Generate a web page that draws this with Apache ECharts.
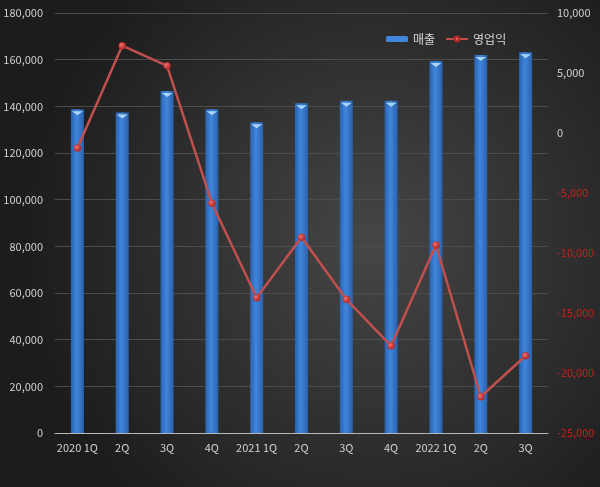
<!DOCTYPE html>
<html>
<head>
<meta charset="utf-8">
<script src="https://cdn.jsdelivr.net/npm/echarts@6/dist/echarts.min.js"></script>
<style>
  html, body { margin: 0; padding: 0; background: #2a2a2a; }
  #chart { width: 600px; height: 487px; }
</style>
</head>
<body>
<div id="chart"></div>
<script>
// 분기
var quarters = ['2020 1Q', '2Q', '3Q', '4Q', '2021 1Q', '2Q', '3Q', '4Q', '2022 1Q', '2Q', '3Q']
// 매출 (왼쪽 축)
var sales = [138700, 137400, 146600, 138700, 133200, 141300, 142400, 142400, 159400, 162000, 163200]
// 영업익 (오른쪽 축)
var profit = [-1250, 7280, 5600, -5850, -13730, -8690, -13860, -17730, -9330, -21980, -18560]

var fontFamily = '"Noto Sans CJK KR", "Noto Sans", sans-serif'

function comma(v) {
  return String(v).replace(/\B(?=(\d{3})+(?!\d))/g, ',')
}

var myChart = echarts.init(document.getElementById('chart'))
myChart.setOption({
  animation: false,
  backgroundColor: new echarts.graphic.RadialGradient(0.62, 0.5, 0.72, [
    { offset: 0, color: '#464646' },
    { offset: 1, color: '#1c1c1c' }
  ]),
  textStyle: { fontFamily: fontFamily },
  legend: {
    top: 28,
    left: 381,
    itemWidth: 22,
    itemHeight: 6,
    itemGap: 10,
    textStyle: { color: '#d8d8d8', fontSize: 12, fontFamily: fontFamily },
    data: [
      { name: '매출', icon: 'roundRect', itemStyle: { color: '#3f86dc' } },
      { name: '영업익' }
    ]
  },
  grid: { left: 55, right: 52, top: 13, bottom: 54 },
  xAxis: {
    type: 'category',
    data: quarters,
    axisLine: { lineStyle: { color: '#b8b8b8', width: 1 } },
    axisTick: { show: false },
    axisLabel: { color: '#d0d0d0', fontSize: 11, margin: 9, interval: 0 }
  },
  yAxis: [
    {
      type: 'value',
      min: 0,
      max: 180000,
      interval: 20000,
      axisLine: { show: false },
      axisTick: { show: false },
      splitLine: { lineStyle: { color: '#4c4c4c', width: 1 } },
      axisLabel: {
        color: '#d0d0d0',
        fontSize: 11,
        margin: 12,
        formatter: function (v) { return comma(v) }
      }
    },
    {
      type: 'value',
      min: -25000,
      max: 10000,
      interval: 5000,
      axisLine: { show: false },
      axisTick: { show: false },
      splitLine: { show: false },
      axisLabel: {
        fontSize: 11,
        margin: 9,
        formatter: function (v) {
          return v < 0 ? '{neg|' + comma(v) + '}' : '{pos|' + comma(v) + '}'
        },
        rich: {
          neg: { color: '#c42020', fontSize: 11 },
          pos: { color: '#d0d0d0', fontSize: 11 }
        }
      }
    }
  ],
  series: [
    {
      name: '매출',
      type: 'bar',
      yAxisIndex: 0,
      barWidth: 13,
      data: sales,
      itemStyle: {
        color: new echarts.graphic.LinearGradient(0, 0, 1, 0, [
          { offset: 0, color: '#2a62b0' },
          { offset: 0.45, color: '#3f86dc' },
          { offset: 1, color: '#2a60ac' }
        ])
      }
    },
    {
      // 막대 윗부분 하이라이트
      name: 'cap',
      type: 'pictorialBar',
      yAxisIndex: 0,
      data: sales,
      symbol: 'triangle',
      symbolRotate: 180,
      symbolSize: [11, 4],
      symbolPosition: 'end',
      symbolOffset: [0, 2],
      z: 3,
      silent: true,
      itemStyle: { color: '#a9d4fa' }
    },
    {
      name: '영업익',
      type: 'line',
      yAxisIndex: 1,
      data: profit,
      symbol: 'circle',
      symbolSize: 7,
      z: 5,
      lineStyle: { color: '#c0504d', width: 2.5 },
      itemStyle: {
        color: new echarts.graphic.RadialGradient(0.35, 0.35, 0.7, [
          { offset: 0, color: '#f07070' },
          { offset: 1, color: '#b02020' }
        ]),
        borderColor: '#b02828',
        borderWidth: 0.5
      }
    }
  ]
})
</script>
</body>
</html>
